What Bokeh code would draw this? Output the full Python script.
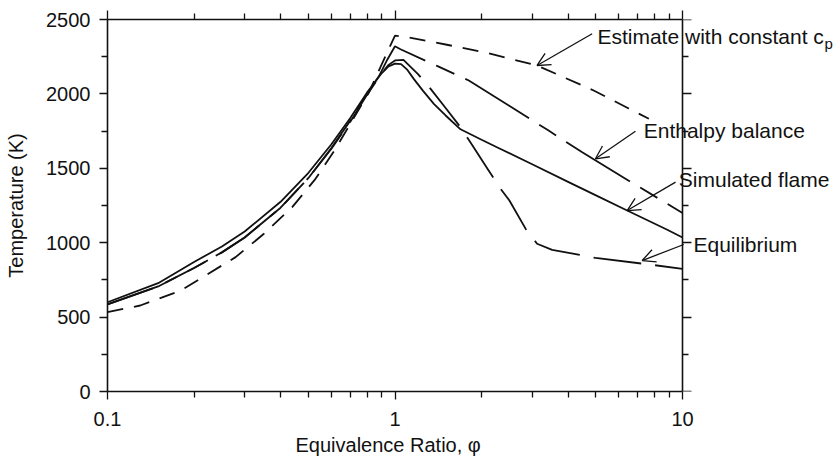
import math
from bokeh.plotting import figure
from bokeh.models import (FixedTicker, LogAxis, LinearAxis, Range1d, Label, Arrow, Title,
                          OpenHead, BasicTickFormatter, CustomJSTickFormatter)
from bokeh.embed import file_html
from bokeh.resources import INLINE

FONT = "Liberation Sans"
INK = "#111111"

# ---------------- data ----------------
x_ticks = [0.1, 1, 10]
x_minor_ticks = [0.2, 0.3, 0.4, 0.5, 0.6, 0.7, 0.8, 0.9, 2, 3, 4, 5, 6, 7, 8, 9]
y_ticks = [0, 500, 1000, 1500, 2000, 2500]
y_minor_ticks = [250, 750, 1250, 1750, 2250]

# Estimate with constant cp
cp_phi = [0.1, 0.13, 0.18, 0.279, 0.35, 0.439, 0.529, 0.621, 0.71, 0.812, 0.94, 1.0,
          1.1, 1.5, 2.04, 3.12, 4.91, 6.5, 7.64]
cp_T = [533, 578, 679, 903, 1060, 1239, 1429, 1631, 1821, 2011, 2280, 2392,
        2381, 2332, 2280, 2191, 2023, 1902, 1833]

# Enthalpy balance
enth_phi = [0.1, 0.15, 0.2, 0.25, 0.3, 0.4, 0.5, 0.6, 0.7, 0.8, 0.88, 0.94, 1.0,
            1.045, 1.4, 1.806, 2.52, 3.4, 4.48, 6.5, 10]
enth_T = [585, 706, 830, 935, 1035, 1235, 1435, 1635, 1822, 2005, 2120, 2230, 2320,
          2300, 2188, 2090, 1915, 1757, 1608, 1417, 1200]

# Simulated flame
sim_phi = [0.1, 0.15, 0.2, 0.25, 0.3, 0.4, 0.5, 0.6, 0.7, 0.8, 0.9, 0.95, 1.0, 1.05,
           1.1, 1.162, 1.25, 1.365, 1.5, 1.69, 2.0, 2.3, 3.0, 4.0, 5.0, 6.42, 8.85, 10]
sim_T = [600, 728, 870, 975, 1075, 1275, 1470, 1660, 1840, 2010, 2140, 2185, 2203, 2200,
         2165, 2101, 2022, 1933, 1855, 1762, 1692, 1635, 1527, 1409, 1318, 1216, 1087, 1035]

# Equilibrium
eq_phi = [0.1, 0.15, 0.2, 0.25, 0.3, 0.4, 0.5, 0.6, 0.7, 0.8, 0.9, 0.95, 1.0, 1.07,
          1.2, 1.33, 1.5, 1.69, 1.86, 2.1, 2.33, 2.5, 2.87, 3.12, 3.52, 4.98, 7.85, 10]
eq_T = [585, 706, 830, 935, 1035, 1235, 1435, 1630, 1815, 1995, 2140, 2195, 2225, 2228,
        2135, 2034, 1905, 1776, 1653, 1496, 1362, 1284, 1082, 993, 952, 898, 851, 824]

# annotation texts: (text, text-left phi, text-middle T, arrow tail phi, tail T, arrow tip phi, tip T)
notes = [
    ("Enthalpy balance", 7.33, 1754, 6.86, 1749, 4.98, 1564),
    ("Simulated flame", 9.71, 1425, 9.46, 1407, 6.42, 1216),
    ("Equilibrium", 10.92, 988, 10.1, 988, 7.24, 880),
]
cp_note = ("Estimate with constant c", 5.06, 2389, 4.85, 2404, 3.12, 2191)
x_title = "Equivalence Ratio, \u03c6"
y_title = "Temperature (K)"

# ---------------- figure ----------------
W, H = 835, 462
FL, FT, FB = 107, 19, 71          # frame borders (px)
DECADE_PX = 287.5                 # px per decade on the x axis
x_end = 10 ** (-1 + (W - FL) / DECADE_PX)   # frame extends right so labels are not clipped

p = figure(width=W, height=H, x_axis_type="log",
           x_range=Range1d(0.1, x_end), y_range=Range1d(0, 2500),
           output_backend="svg", toolbar_location=None,
           min_border_left=FL, min_border_right=0, min_border_top=FT, min_border_bottom=FB)
p.outline_line_color = None
p.xgrid.grid_line_color = None
p.ygrid.grid_line_color = None
p.background_fill_color = "white"
p.border_fill_color = "white"

xt = FixedTicker(ticks=x_ticks, minor_ticks=x_minor_ticks)
yt = FixedTicker(ticks=y_ticks, minor_ticks=y_minor_ticks)
blank = CustomJSTickFormatter(code="return ''")


def style_axis(ax, major_out=8, minor_out=6):
    ax.axis_line_color = INK
    ax.axis_line_width = 1.6
    ax.major_tick_line_color = INK
    ax.minor_tick_line_color = INK
    ax.major_tick_line_width = 1.3
    ax.minor_tick_line_width = 1.3
    ax.major_tick_in = 0
    ax.minor_tick_in = 0
    ax.major_tick_out = major_out
    ax.minor_tick_out = minor_out
    ax.major_label_text_font = FONT
    ax.major_label_text_font_size = "20px"
    ax.major_label_text_color = INK
    ax.axis_label_text_font = FONT
    ax.axis_label_text_font_size = "20px"
    ax.axis_label_text_font_style = "normal"
    ax.axis_label_text_color = INK


xa = p.xaxis[0]
xa.ticker = xt
xa.bounds = (0.1, 10)
xa.formatter = BasicTickFormatter()
style_axis(xa)
xa.major_label_standoff = 12

# x-axis title centred under the 0.1..10 span (not the whole, widened frame)
p.add_layout(Title(text=x_title, align="left", offset=188, standoff=6,
                   text_font=FONT, text_font_size="20px", text_font_style="normal",
                   text_color=INK), "below")

ya = p.yaxis[0]
ya.ticker = yt
style_axis(ya)
ya.major_label_standoff = 9
ya.axis_label = y_title
ya.axis_label_standoff = 16

top = LogAxis(ticker=xt, formatter=blank, bounds=(0.1, 10))
style_axis(top, major_out=9)
top.major_label_standoff = 0
p.add_layout(top, "above")

right = LinearAxis(ticker=yt, formatter=blank, fixed_location=10)
style_axis(right, major_out=9)
right.major_label_standoff = 0
p.add_layout(right, "right")

# ---------------- curves ----------------
LW = 1.8
p.line(x=cp_phi, y=cp_T, line_color=INK, line_width=LW, line_dash="16 11")
p.line(x=enth_phi, y=enth_T, line_color=INK, line_width=LW, line_dash="75 12 20 12")
p.line(x=eq_phi, y=eq_T, line_color=INK, line_width=LW, line_dash="48 14")
p.line(x=sim_phi, y=sim_T, line_color=INK, line_width=LW)

# ---------------- annotations ----------------
def add_note(text, tx, ty, ax0, ay0, ax1, ay1, size="21px"):
    p.add_layout(Label(x=tx, y=ty, text=text, text_font=FONT, text_font_size=size,
                       text_color=INK, text_baseline="middle", text_align="left"))
    p.add_layout(Arrow(end=OpenHead(size=13, line_width=1.3, line_color=INK),
                       x_start=ax0, y_start=ay0, x_end=ax1, y_end=ay1,
                       line_width=1.3, line_color=INK))


for n in notes:
    add_note(*n)

add_note(*cp_note)
p.add_layout(Label(x=cp_note[1], y=cp_note[2], x_offset=227, y_offset=-7, text="p",
                   text_font=FONT, text_font_size="15px", text_color=INK,
                   text_baseline="middle", text_align="left"))

open("out.html", "w").write(file_html(p, INLINE))
